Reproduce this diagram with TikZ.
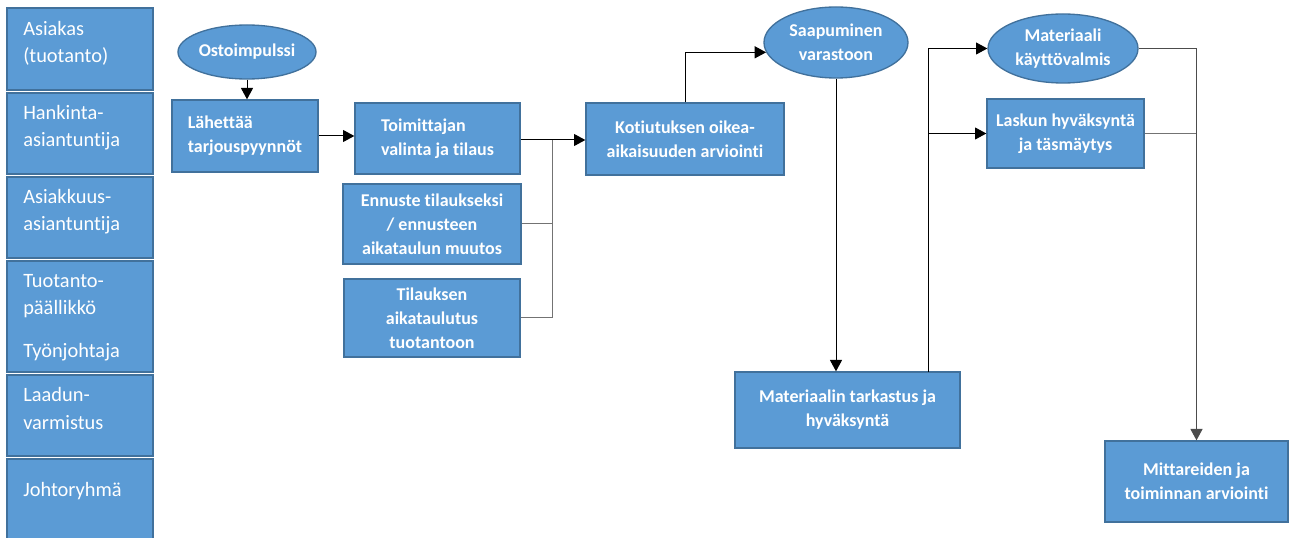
\documentclass[tikz,border=0pt]{standalone}
\usepackage{fontspec}
\setmainfont{Carlito}[Ligatures=NoCommon]
\usetikzlibrary{shapes.geometric,arrows.meta}
\definecolor{boxfill}{HTML}{5B9BD5}
\definecolor{boxline}{HTML}{41719C}
\begin{document}
\begin{tikzpicture}[x=0.75pt,y=-0.75pt,
  role/.style={draw=boxline,line width=1.5pt,fill=boxfill,rectangle,minimum width=109.5pt,inner sep=0pt},
  rolelbl/.style={anchor=base west,inner sep=0pt,text=white,font=\fontsize{15.3}{20}\selectfont},
  stepbox/.style={draw=boxline,line width=1pt,fill=boxfill,rectangle,inner sep=2pt,text=white,
    font=\bfseries\fontsize{13.5}{18}\selectfont,align=center},
  event/.style={draw=boxline,line width=1pt,fill=boxfill,ellipse,inner sep=0pt,text=white,
    font=\bfseries\fontsize{13.5}{18}\selectfont,align=center},
  tip/.style={-{Triangle[length=8.5pt,width=9pt]}},
  flow/.style={draw=black,line width=0.75pt,tip},
  link/.style={draw=black!55,line width=0.75pt}
]
\useasboundingbox (0,0) rectangle (1290,538);
\clip (0,0) rectangle (1290,538);

% roles column
\node[role,minimum height=61.5pt]  (r1) at (80,49) {};
\node[role,minimum height=60.75pt] (r2) at (80,133.5) {};
\node[role,minimum height=60.75pt] (r3) at (80,217.5) {};
\node[role,minimum height=83.25pt] (r4) at (80,316.5) {};
\node[role,minimum height=60.75pt] (r5) at (80,415.5) {};
\node[role,minimum height=68.25pt] (r6) at (80,504.5) {};

\node[rolelbl] (r1a) at (23,36) {Asiakas};
\node[rolelbl] (r1b) at (23,63) {(tuotanto)};
\node[rolelbl] (r2a) at (23,120) {Hankinta-};
\node[rolelbl] (r2b) at (23,147) {asiantuntija};
\node[rolelbl] (r3a) at (23,204) {Asiakkuus-};
\node[rolelbl] (r3b) at (23,231) {asiantuntija};
\node[rolelbl] (r4a) at (23,288) {Tuotanto-};
\node[rolelbl] (r4b) at (23,315) {päällikkö};
\node[rolelbl] (r4c) at (23,358) {Työnjohtaja};
\node[rolelbl] (r5a) at (23,402) {Laadun-};
\node[rolelbl] (r5b) at (23,430) {varmistus};
\node[rolelbl] (r6a) at (23,497) {Johtoryhmä};

% process steps
\node[event,minimum width=103.5pt,minimum height=40.5pt] (osto) at (247,52) {Ostoimpulssi};
\node[stepbox,minimum width=109.5pt,minimum height=54pt,align=left] (lah) at (245,136) {Lähettää\\tarjouspyynnöt};
\node[stepbox,minimum width=123.75pt,minimum height=53.25pt,align=left] (toim) at (437.5,138.5) {Toimittajan\\valinta ja tilaus};
\node[stepbox,minimum width=133.5pt,minimum height=60pt] (enn) at (432,224) {Ennuste tilaukseksi\\/ ennusteen\\aikataulun muutos};
\node[stepbox,minimum width=132pt,minimum height=58.5pt] (tila) at (432,318) {Tilauksen\\aikataulutus\\tuotantoon};
\node[stepbox,minimum width=148.5pt,minimum height=54pt] (kot) at (685,139) {Kotiutuksen oikea-\\aikaisuuden arviointi};
\node[event,minimum width=108pt,minimum height=53.25pt] (saap) at (836,42.5) {Saapuminen\\varastoon};
\node[stepbox,minimum width=168.75pt,minimum height=57pt] (tark) at (847.5,410) {Materiaalin tarkastus ja\\hyväksyntä};
\node[event,minimum width=112.5pt,minimum height=51.75pt] (valm) at (1063,48.5) {Materiaali\\käyttövalmis};
\node[stepbox,minimum width=117.75pt,minimum height=51.75pt] (lasku) at (1065.5,133.5) {Laskun hyväksyntä\\ja täsmäytys};
\node[stepbox,minimum width=137.25pt,minimum height=60.75pt] (mitt) at (1196.5,481.5) {Mittareiden ja\\toiminnan arviointi};

% junction points
\coordinate (J) at (552,140);
\coordinate (K) at (928,372);

% connectors
\draw[flow] (osto.south) -- (osto.south |- lah.north);
\draw[flow] (lah.east) -- (lah.east -| toim.west);
\draw[link] (enn.east) -- (enn.east -| J);
\draw[link] (tila.east) -| (J);
\draw[flow] (toim.east |- J) -- (J -| kot.west);
\draw[flow] (kot.north) |- (saap.188);
\draw[flow] (saap.south) -- (saap.south |- tark.north);
\draw[flow] (K) |- (valm.west);
\draw[flow] (K |- lasku.west) -- (lasku.west);
\draw[link] (lasku.east) -- (lasku.east -| mitt.north);
\draw[link,tip,draw=black!70] (valm.east) -| (mitt.north);
\end{tikzpicture}
\end{document}
